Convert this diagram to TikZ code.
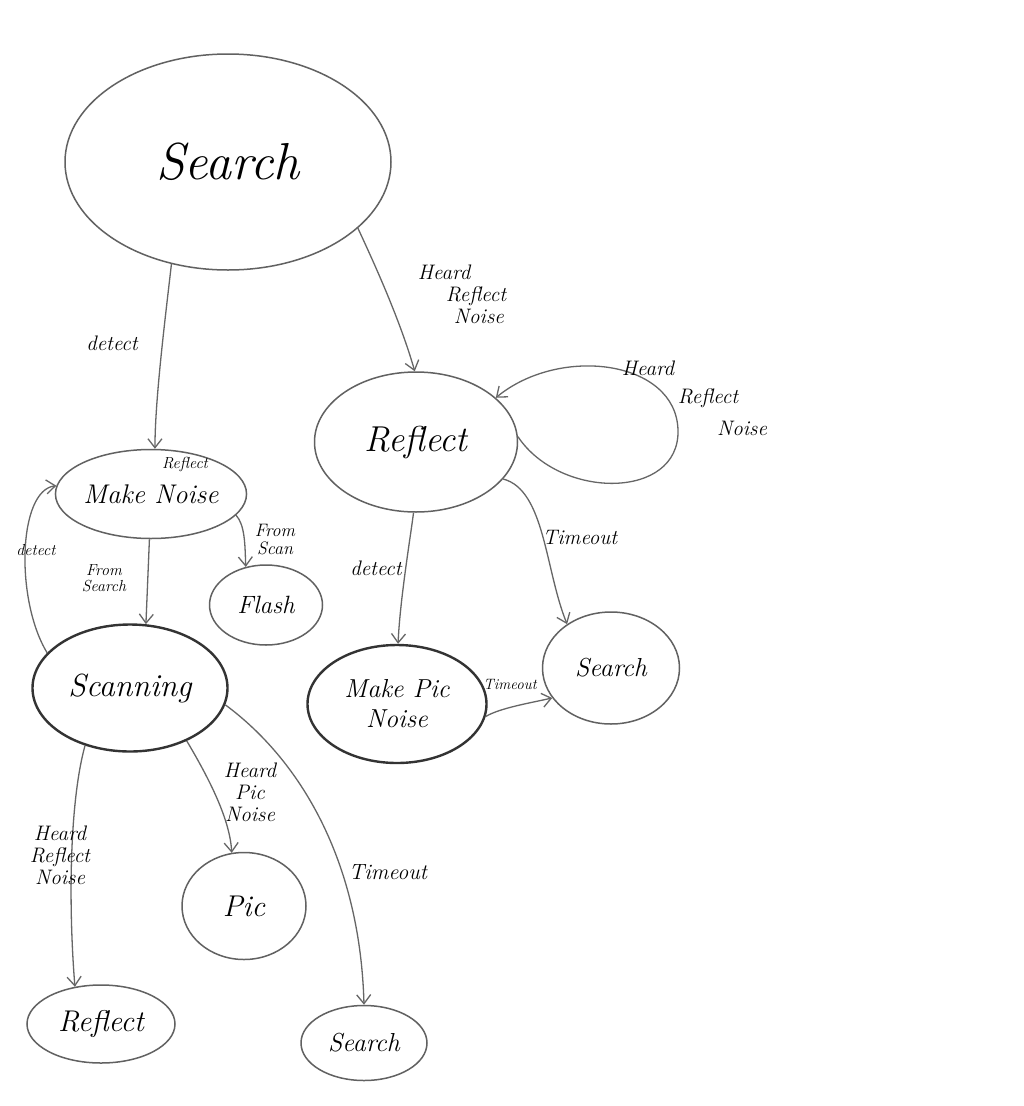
\documentclass[tikz,border=0pt]{standalone}
\usetikzlibrary{shapes.geometric,arrows.meta}
\begin{document}
\begin{tikzpicture}[x=1pt,y=-1pt,
  st/.style={ellipse,draw=black!62,line width=1.5pt,inner sep=0pt,font=\itshape},
  stb/.style={st,draw=black!80,line width=2.4pt},
  tr/.style={draw=black!60,line width=1.3pt,-{Straight Barb[length=9pt,width=14pt,line width=1.3pt]}},
  lb/.style={font=\fontsize{21}{22}\selectfont\itshape,align=center,inner sep=1pt}]
\useasboundingbox[fill=white] (0,0) rectangle (1024,1106);
% states
\node[st,minimum width=326pt,minimum height=216pt,font=\fontsize{52}{52}\selectfont\itshape] (S) at (228,162) {Search};
\node[st,minimum width=188pt,minimum height=89pt,font=\fontsize{27}{27}\selectfont\itshape] (MN) at (151,494) {Make Noise};
\node[lb,font=\fontsize{16}{16}\selectfont\itshape] (MNr) at (185,464) {Reflect};
\node[st,minimum width=203pt,minimum height=140pt,font=\fontsize{36}{36}\selectfont\itshape] (R) at (416,442) {Reflect};
\node[st,minimum width=113pt,minimum height=80pt,font=\fontsize{25}{25}\selectfont\itshape] (F) at (266,605) {Flash};
\node[stb,minimum width=195pt,minimum height=127pt,font=\fontsize{32}{32}\selectfont\itshape] (SC) at (130,688) {Scanning};
\node[stb,minimum width=179pt,minimum height=118pt,align=center,font=\fontsize{26}{30}\selectfont\itshape] (MP) at (397,704) {Make Pic\\Noise};
\node[st,minimum width=137pt,minimum height=112pt,font=\fontsize{26}{26}\selectfont\itshape] (SR) at (611,668) {Search};
\node[st,minimum width=148pt,minimum height=78pt,font=\fontsize{30}{30}\selectfont\itshape] (RB) at (101,1024) {Reflect};
\node[st,minimum width=124pt,minimum height=107pt,font=\fontsize{30}{30}\selectfont\itshape] (P) at (244,906) {Pic};
\node[st,minimum width=126pt,minimum height=75pt,font=\fontsize{26}{26}\selectfont\itshape] (SB) at (364,1043) {Search};
% transitions
\draw[tr] (S.-27) .. controls (375,265) and (400,320) .. (R.91);
\draw[tr] (S.-119) .. controls (165,320) and (155,400) .. (MN.85);
\draw[tr] (R.3) .. controls (560,500) and (680,500) .. (678,430)
          .. controls (676,360) and (560,345) .. (R.29);
\draw[tr] (MN.-14) .. controls (245,525) and (245,545) .. (F.118);
\draw[tr] (MN.-92) -- (SC.76);
\draw[tr] (SC.157) .. controls (15,600) and (18,490) .. (MN.175);
\draw[tr] (R.-92) .. controls (410,540) and (400,600) .. (MP.89);
\draw[tr] (R.-23) .. controls (545,490) and (545,570) .. (SR.135);
\draw[tr] (MP.-8) .. controls (500,708) and (530,703) .. (SR.207);
\draw[tr] (SC.-128) .. controls (70,800) and (68,900) .. (RB.125);
\draw[tr] (SC.-43) .. controls (210,780) and (230,820) .. (P.103);
\draw[tr] (SC.-10) .. controls (300,760) and (360,860) .. (SB.90);
% labels
\node[lb,align=left] (l1) at (462,294) {Heard\\\hspace*{28pt}Reflect\\\hspace*{36pt}Noise};
\node[lb] (l2) at (112,343) {detect};
\node[lb] (l3a) at (648,368) {Heard};
\node[lb] (l3b) at (708,398) {Reflect};
\node[lb] (l3c) at (742,428) {Noise};
\node[lb,font=\fontsize{18}{18}\selectfont\itshape] (l4) at (275,540) {From\\Scan};
\node[lb,font=\fontsize{16}{16}\selectfont\itshape] (l5) at (104,578) {From\\Search};
\node[lb,font=\fontsize{16}{16}\selectfont\itshape] (l6) at (36,550) {detect};
\node[lb] (l7) at (376,568) {detect};
\node[lb] (l8) at (580,537) {Timeout};
\node[lb,font=\fontsize{15}{15}\selectfont\itshape] (l9) at (510,684) {Timeout};
\node[lb] (l10) at (60,855) {Heard\\Reflect\\Noise};
\node[lb] (l11) at (250,792) {Heard\\Pic\\Noise};
\node[lb,font=\fontsize{22}{22}\selectfont\itshape] (l12) at (388,872) {Timeout};
\end{tikzpicture}
\end{document}
